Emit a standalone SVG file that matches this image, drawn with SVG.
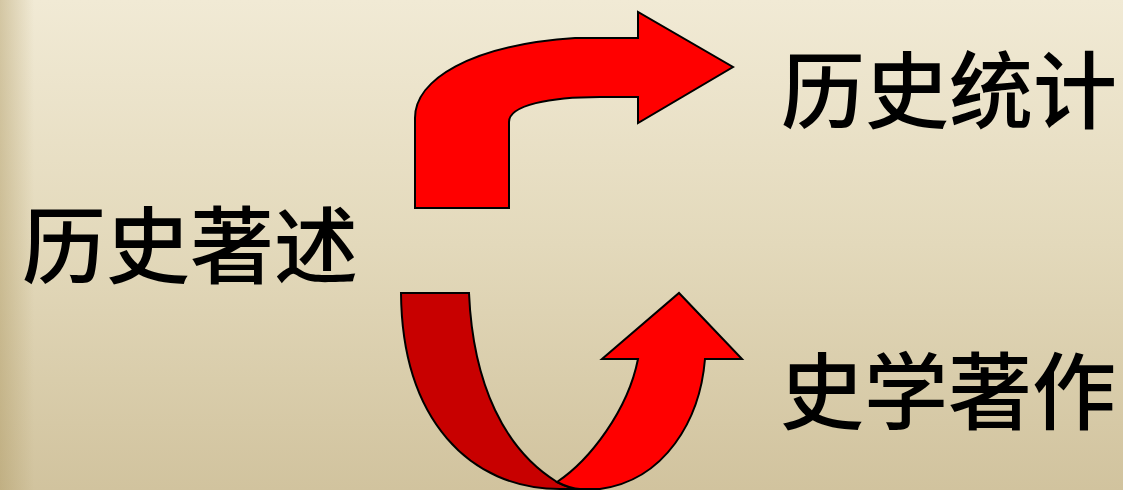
<svg xmlns="http://www.w3.org/2000/svg" width="1123" height="490" viewBox="0 0 1123 490">
<defs>
<linearGradient id="bg" x1="0" y1="0" x2="0" y2="1">
<stop offset="0" stop-color="#f1ead5"/>
<stop offset="0.5" stop-color="#e3d9bb"/>
<stop offset="1" stop-color="#d1c39e"/>
</linearGradient>
<linearGradient id="edge" x1="0" y1="0" x2="1" y2="0">
<stop offset="0" stop-color="#a8925a" stop-opacity="0.4"/>
<stop offset="0.45" stop-color="#a8925a" stop-opacity="0.22"/>
<stop offset="1" stop-color="#a8925a" stop-opacity="0"/>
</linearGradient>
</defs>
<style>
.lbl{font-family:"Noto Sans CJK SC","Noto Sans CJK TC",sans-serif;font-size:84px;font-weight:500;fill:#000;}
.bright{fill:#ff0000;stroke:#000;stroke-width:2;stroke-linejoin:miter;}
.dark{fill:#c80000;stroke:#000;stroke-width:2;stroke-linejoin:miter;}
</style>
<rect x="0" y="0" width="1123" height="490" fill="url(#bg)"/>
<rect x="0" y="0" width="34" height="490" fill="url(#edge)"/>
<g id="connectors">
<path class="bright" d="M415,208 L415,118 C415,80 470,45 575,38 L638,38 L638,12 L733,67 L638,123 L638,97 L600,97 C550,97 509,105 509,122 L509,208 Z"/>
<path class="dark" d="M401,293 L469,293 C473,385 505,450 557,482 C565,486 572,489 580,489 L560,489 C470,489 402,420 401,293 Z"/>
<path class="bright" d="M557,482 C590,460 628,410 638,359 L602,359 L679,293 L742,359 L705,359 C700,420 665,480 600,489 L580,489 C572,489 565,486 557,482 Z"/>
</g>
<g id="node-source"><text class="lbl" x="22" y="277">历史著述</text></g>
<g id="node-stats"><text class="lbl" x="781" y="122">历史统计</text></g>
<g id="node-works"><text class="lbl" x="780" y="423">史学著作</text></g>
</svg>
